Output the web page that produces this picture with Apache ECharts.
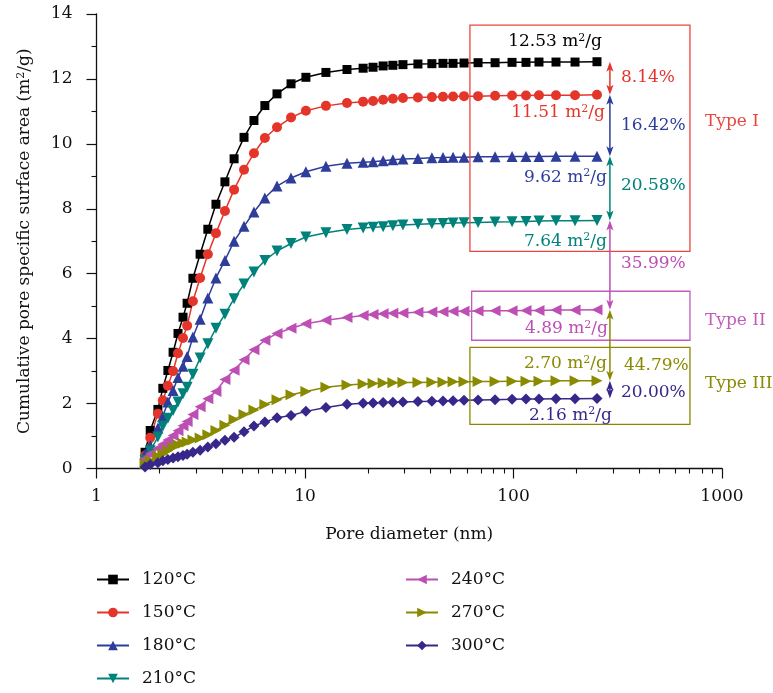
<!DOCTYPE html>
<html>
<head>
<meta charset="utf-8">
<script src="https://cdn.jsdelivr.net/npm/echarts@6/dist/echarts.min.js"></script>
<style>
  html, body { margin: 0; padding: 0; background: #ffffff; }
  #chart { width: 773px; height: 693px; }
</style>
</head>
<body>
<div id="chart"></div>
<script>
// Pore diameter (nm) shared by every curve
const diameters = [1.71, 1.81, 1.97, 2.08, 2.20, 2.33, 2.46, 2.60, 2.72, 2.90,
  3.14, 3.42, 3.74, 4.13, 4.57, 5.10, 5.69, 6.42, 7.34, 8.57,
  10.1, 12.6, 15.9, 19.0, 21.2, 23.7, 26.4, 29.5, 34.8, 40.6,
  45.9, 51.3, 57.9, 67.6, 81.6, 98.4, 114.8, 132.5, 159.9, 197.3, 251.4];

// Cumulative pore specific surface area (m2/g) per treatment temperature
const area120 = [0.50, 1.17, 1.82, 2.47, 3.02, 3.58, 4.16, 4.66, 5.09, 5.86,
  6.60, 7.37, 8.14, 8.83, 9.54, 10.20, 10.72, 11.18, 11.54, 11.85,
  12.05, 12.20, 12.29, 12.33, 12.36, 12.40, 12.42, 12.44, 12.46, 12.47,
  12.48, 12.48, 12.49, 12.50, 12.50, 12.51, 12.51, 12.52, 12.52, 12.52, 12.53];
const area150 = [0.40, 0.95, 1.69, 2.10, 2.55, 3.00, 3.55, 4.02, 4.40, 5.15,
  5.87, 6.60, 7.25, 7.93, 8.59, 9.20, 9.71, 10.18, 10.51, 10.81,
  11.02, 11.17, 11.26, 11.30, 11.32, 11.36, 11.39, 11.41, 11.43, 11.44,
  11.45, 11.46, 11.47, 11.47, 11.48, 11.49, 11.49, 11.50, 11.50, 11.50, 11.51];
const area180 = [0.45, 0.70, 1.25, 1.60, 2.05, 2.40, 2.80, 3.15, 3.45, 4.05,
  4.60, 5.25, 5.87, 6.41, 7.00, 7.46, 7.90, 8.33, 8.70, 8.95,
  9.14, 9.31, 9.40, 9.43, 9.45, 9.48, 9.51, 9.53, 9.55, 9.57,
  9.58, 9.59, 9.59, 9.60, 9.60, 9.61, 9.61, 9.61, 9.62, 9.62, 9.62];
const area210 = [0.25, 0.55, 0.97, 1.30, 1.55, 1.79, 2.05, 2.30, 2.50, 2.90,
  3.40, 3.84, 4.32, 4.75, 5.23, 5.68, 6.05, 6.41, 6.70, 6.93,
  7.13, 7.26, 7.36, 7.41, 7.43, 7.45, 7.48, 7.50, 7.52, 7.54,
  7.55, 7.56, 7.57, 7.58, 7.59, 7.60, 7.61, 7.62, 7.63, 7.63, 7.64];
const area240 = [0.30, 0.45, 0.62, 0.75, 0.88, 1.02, 1.16, 1.32, 1.45, 1.66,
  1.90, 2.15, 2.37, 2.74, 3.03, 3.35, 3.66, 3.95, 4.16, 4.32,
  4.46, 4.57, 4.65, 4.71, 4.74, 4.77, 4.78, 4.79, 4.81, 4.82,
  4.83, 4.84, 4.84, 4.85, 4.86, 4.86, 4.87, 4.87, 4.88, 4.88, 4.89];
const area270 = [0.15, 0.25, 0.38, 0.45, 0.55, 0.65, 0.73, 0.78, 0.82, 0.88,
  0.94, 1.04, 1.17, 1.33, 1.51, 1.66, 1.80, 1.97, 2.12, 2.27,
  2.37, 2.50, 2.57, 2.60, 2.62, 2.63, 2.64, 2.65, 2.65, 2.66,
  2.66, 2.67, 2.67, 2.68, 2.68, 2.69, 2.69, 2.69, 2.70, 2.70, 2.70];
const area300 = [0.05, 0.12, 0.18, 0.24, 0.28, 0.32, 0.36, 0.40, 0.44, 0.50,
  0.56, 0.66, 0.76, 0.87, 0.96, 1.13, 1.31, 1.43, 1.56, 1.63,
  1.76, 1.88, 1.98, 2.01, 2.02, 2.03, 2.04, 2.05, 2.06, 2.07,
  2.08, 2.09, 2.10, 2.11, 2.12, 2.13, 2.14, 2.14, 2.15, 2.15, 2.16];

const seriesNames = ['120°C', '150°C', '180°C', '210°C', '240°C', '270°C', '300°C'];
const seriesValues = [area120, area150, area180, area210, area240, area270, area300];

// Axis ticks
const yTicks = [0, 2, 4, 6, 8, 10, 12, 14];
const xMinorTicks = [2, 3, 4, 5, 6, 7, 8, 9, 20, 30, 40, 50, 60, 70, 80, 90,
  200, 300, 400, 500, 600, 700, 800, 900];

// Pore-type groups
const typeNames = ['Type I', 'Type II', 'Type III'];

// ---- styling ----
const FONT = 'DejaVu Serif';
const colors = ['#000000', '#e4352b', '#2e3d9a', '#00827b', '#bd4fb4', '#8a8a00', '#38278a'];
const symbols = ['rect', 'circle', 'triangle', 'triangle', 'triangle', 'triangle', 'diamond'];
const symbolRotations = [0, 0, 0, 180, 90, -90, 0];
const symbolSizes = [9, 10, 11, 11, 11, 11, 11];

const chart = echarts.init(document.getElementById('chart'), null, { renderer: 'canvas' });

const series = seriesNames.map((name, i) => ({
  name,
  type: 'line',
  xAxisIndex: 0,
  yAxisIndex: 0,
  data: diameters.map((d, k) => [d, seriesValues[i][k]]),
  symbol: symbols[i],
  symbolRotate: symbolRotations[i],
  symbolSize: symbolSizes[i],
  showAllSymbol: true,
  smooth: false,
  lineStyle: { color: colors[i], width: 1.5 },
  itemStyle: { color: colors[i], borderWidth: 0 },
  emphasis: { disabled: true },
  animation: false
}));

const legendCommon = {
  orient: 'vertical',
  padding: 0,
  height: 124,
  itemWidth: 32,
  itemHeight: 12,
  itemGap: 12,
  textStyle: { fontFamily: FONT, fontSize: 17, color: '#111', lineHeight: 21, padding: [0, 0, 0, 8] },
  selectedMode: false
};

chart.setOption({
  animation: false,
  grid: { left: 96.5, right: 51, top: 14, bottom: 224.5, containLabel: false },
  xAxis: [{
    type: 'log',
    logBase: 10,
    min: 1,
    max: 1000,
    name: 'Pore diameter (nm)',
    nameLocation: 'middle',
    nameGap: 58,
    nameTextStyle: { fontFamily: FONT, fontSize: 17, color: '#111' },
    axisLine: { show: true, lineStyle: { color: '#111', width: 1.3 } },
    axisTick: { show: true, inside: false, length: 10, lineStyle: { color: '#111', width: 1.2 } },
    axisLabel: { fontFamily: FONT, fontSize: 17, color: '#111', margin: 20,
      formatter: v => String(Math.round(v)) },
    splitLine: { show: false }
  }, {
    type: 'log',
    logBase: 10,
    min: 1,
    max: 1000,
    position: 'bottom',
    axisLine: { show: false },
    axisTick: { show: true, inside: false, length: 5, customValues: xMinorTicks,
      lineStyle: { color: '#111', width: 1.1 } },
    axisLabel: { show: false },
    splitLine: { show: false }
  }],
  yAxis: {
    type: 'value',
    min: yTicks[0],
    max: yTicks[yTicks.length - 1],
    interval: 2,
    name: '{t|Cumulative pore specific surface area (m}{s|2}{t|/g)}',
    nameLocation: 'middle',
    nameRotate: 90,
    nameGap: 62,
    nameTextStyle: {
      rich: {
        t: { fontFamily: FONT, fontSize: 17, color: '#111' },
        s: { fontFamily: FONT, fontSize: 11, color: '#111', padding: [0, 0, 8, 0] }
      }
    },
    axisLine: { show: true, lineStyle: { color: '#111', width: 1.3 } },
    axisTick: { show: true, inside: false, length: 10, lineStyle: { color: '#111', width: 1.2 } },
    minorTick: { show: true, splitNumber: 2, length: 5, lineStyle: { color: '#111', width: 1.1 } },
    axisLabel: { fontFamily: FONT, fontSize: 17, color: '#111', margin: 24 },
    splitLine: { show: false }
  },
  legend: [
    Object.assign({ left: 96, top: 569, data: seriesNames.slice(0, 4) }, legendCommon),
    Object.assign({ left: 405, top: 569, data: seriesNames.slice(4) }, legendCommon)
  ],
  series
});

// ---- annotations placed in data coordinates ----
const px = (x, y) => chart.convertToPixel({ seriesIndex: 0 }, [x, y]);
const finals = seriesValues.map(v => v[v.length - 1]);
const lastX = diameters[diameters.length - 1];

// value label offsets (pixels) relative to each curve's last point
const valueLabelDx = [5, 8, 10, 10, 11, 10, 15];
const valueLabelDy = [-20, 18, 21, 21, 19, -17, 17];

const arrowX = 290;               // nm
const percentLabelY = [12.05, 10.55, 8.7, 6.3, 3.18, 2.34];

const boxes = [
  { x0: 61.8, x1: 702, y0: 6.69, y1: 13.66, color: '#e8463f' },
  { x0: 63.0, x1: 702, y0: 3.95, y1: 5.46, color: '#c25cba' },
  { x0: 61.8, x1: 702, y0: 1.36, y1: 3.73, color: '#8a8a00' }
];
const typeLabelPos = [[829, 10.68], [829, 4.56], [829, 2.62]];
const typeColors = ['#e8463f', '#c25cba', '#8a8a00'];

const graphics = [];

boxes.forEach(b => {
  const p0 = px(b.x0, b.y1), p1 = px(b.x1, b.y0);
  graphics.push({
    type: 'rect', silent: true, z: 10,
    shape: { x: p0[0], y: p0[1], width: p1[0] - p0[0], height: p1[1] - p0[1] },
    style: { fill: 'none', stroke: b.color, lineWidth: 1.3 }
  });
});

typeNames.forEach((t, i) => {
  const p = px(typeLabelPos[i][0], typeLabelPos[i][1]);
  graphics.push({
    type: 'text', silent: true, z: 12,
    style: { text: t, x: p[0], y: p[1], align: 'left', verticalAlign: 'middle',
      font: '17px "' + FONT + '"', fill: typeColors[i] }
  });
});

finals.forEach((v, i) => {
  const p = px(lastX, v);
  graphics.push({
    type: 'text', silent: true, z: 12,
    style: {
      text: '{t|' + v.toFixed(2) + ' m}{s|2}{t|/g}',
      x: p[0] + valueLabelDx[i], y: p[1] + valueLabelDy[i],
      align: 'right', verticalAlign: 'middle',
      rich: {
        t: { fontFamily: FONT, fontSize: 17, fill: colors[i] },
        s: { fontFamily: FONT, fontSize: 11, fill: colors[i], padding: [0, 0, 8, 0] }
      }
    }
  });
});

// double-headed arrows between successive plateaus, coloured like the lower curve
for (let i = 0; i < finals.length - 1; i++) {
  const top = px(arrowX, finals[i]);
  const bot = px(arrowX, finals[i + 1]);
  const c = colors[i + 1];
  const x = top[0], h = 10, w = 3.6;
  graphics.push({
    type: 'line', silent: true, z: 11,
    shape: { x1: x, y1: top[1] + h * 0.7, x2: x, y2: bot[1] - h * 0.7 },
    style: { stroke: c, lineWidth: 1.5 }
  });
  graphics.push({
    type: 'polygon', silent: true, z: 11,
    shape: { points: [[x, top[1]], [x - w, top[1] + h], [x, top[1] + h * 0.75], [x + w, top[1] + h]] },
    style: { fill: c }
  });
  graphics.push({
    type: 'polygon', silent: true, z: 11,
    shape: { points: [[x, bot[1]], [x - w, bot[1] - h], [x, bot[1] - h * 0.75], [x + w, bot[1] - h]] },
    style: { fill: c }
  });
  const pct = ((finals[i] - finals[i + 1]) / finals[i] * 100).toFixed(2) + '%';
  const lp = px(arrowX, percentLabelY[i]);
  graphics.push({
    type: 'text', silent: true, z: 12,
    style: { text: pct, x: x + (i === 4 ? 14 : 11), y: lp[1], align: 'left', verticalAlign: 'middle',
      font: '17px "' + FONT + '"', fill: c }
  });
}

chart.setOption({ graphic: graphics });
</script>
</body>
</html>
